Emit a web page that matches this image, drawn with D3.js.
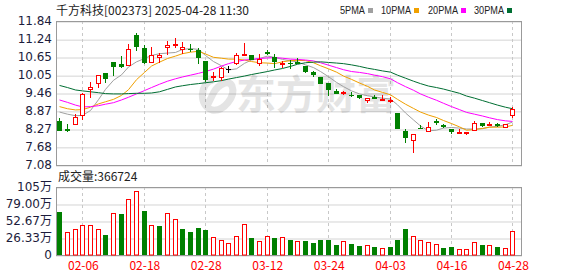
<!DOCTYPE html>
<html lang="zh">
<head>
<meta charset="UTF-8">
<title>千方科技 K线</title>
<script src="https://d3js.org/d3.v7.min.js"></script>
<style>
    body { margin: 0; background: #fff; }
    svg { display: block; }
    .ylab text { font-family: Tahoma, "DejaVu Sans", sans-serif; font-size: 12px; fill: #1c1c3c; }
    .xlab text { font-family: "Noto Sans CJK SC", monospace; font-size: 12px; fill: #ff0000; }
    .grid line { stroke: #d4d4d4; }
    .grid path, .ylab path, .xlab path { display: none; }
    .vgrid line { stroke: #c8c8c8; stroke-dasharray: 3,3; }
</style>
</head>
<body>
<svg width="578" height="276"></svg>
<script>
const dates = ["01-24","01-27","02-05","02-06","02-07","02-10","02-11","02-12","02-13","02-14",
    "02-17","02-18","02-19","02-20","02-21","02-24","02-25","02-26","02-27","02-28",
    "03-03","03-04","03-05","03-06","03-07","03-10","03-11","03-12","03-13","03-14",
    "03-17","03-18","03-19","03-20","03-21","03-24","03-25","03-26","03-27","03-28",
    "03-31","04-01","04-02","04-03","04-07","04-08","04-09","04-10","04-11","04-14",
    "04-15","04-16","04-17","04-18","04-21","04-22","04-23","04-24","04-25","04-28"];

const opens = [8.53,8.28,8.45,8.73,9.58,9.78,10.12,10.49,10.43,10.38,
    11.39,10.95,10.48,10.66,10.99,11.05,10.91,10.91,10.89,10.53,
    9.99,9.97,10.25,10.44,10.73,10.73,10.45,10.81,10.66,10.42,
    10.44,10.48,10.34,10.16,10.00,9.78,9.54,9.47,9.40,9.38,
    9.26,9.32,9.24,9.21,8.80,8.20,7.90,8.29,8.21,8.53,
    8.40,8.28,8.17,8.16,8.23,8.46,8.42,8.43,8.34,8.71];
const highs = [8.62,8.43,8.77,9.45,9.82,10.05,10.12,10.49,10.68,11.08,
    11.43,11.06,10.97,10.79,11.17,11.27,11.16,11.08,10.95,10.53,
    10.17,10.33,10.35,10.78,11.12,10.73,10.74,10.89,10.74,10.51,
    10.56,10.63,10.34,10.19,10.00,9.78,9.59,9.53,9.48,9.38,
    9.31,9.38,9.38,9.33,8.80,8.27,8.10,8.41,8.50,8.59,
    8.45,8.28,8.27,8.18,8.55,8.46,8.49,8.47,8.44,8.99];
const lows = [8.21,8.17,8.41,8.58,9.31,9.64,9.80,10.03,10.28,10.38,
    10.86,10.43,10.48,10.44,10.73,10.95,10.76,10.81,10.41,9.83,
    9.87,9.86,10.13,10.40,10.71,10.58,10.36,10.73,10.30,10.28,
    10.24,10.41,10.11,9.99,9.75,9.36,9.42,9.38,9.33,9.27,
    9.12,9.25,9.21,9.14,8.28,7.80,7.49,8.28,8.21,8.40,
    8.30,8.10,8.15,8.07,8.20,8.33,8.37,8.35,8.33,8.62];
const closes = [8.21,8.23,8.68,9.43,9.65,10.05,9.93,10.33,10.34,10.90,
    10.99,10.46,10.71,10.72,11.06,11.07,10.98,10.88,10.61,9.91,
    10.02,10.28,10.25,10.72,10.76,10.58,10.59,10.76,10.48,10.44,
    10.40,10.43,10.13,10.05,9.78,9.55,9.45,9.49,9.37,9.27,
    9.31,9.25,9.27,9.23,8.28,7.97,8.10,8.28,8.35,8.46,
    8.35,8.19,8.18,8.18,8.46,8.37,8.44,8.37,8.43,8.92];

const ma5 = [8.83,8.76,8.71,8.72,8.88,9.24,9.58,9.88,10.06,10.32,
    10.49,10.60,10.70,10.76,10.78,10.80,10.90,10.93,10.90,10.70,
    10.50,10.36,10.22,10.26,10.44,10.55,10.60,10.68,10.64,10.57,
    10.52,10.49,10.39,10.30,10.17,10.00,9.81,9.67,9.53,9.43,
    9.37,9.33,9.29,9.26,9.07,8.80,8.57,8.37,8.21,8.23,
    8.30,8.32,8.30,8.27,8.27,8.28,8.33,8.36,8.41,8.50];
const ma10 = [9.01,8.94,8.90,8.91,8.99,9.10,9.17,9.25,9.38,9.57,
    9.90,10.14,10.35,10.48,10.60,10.68,10.76,10.81,10.84,10.75,
    10.64,10.61,10.58,10.58,10.55,10.50,10.46,10.45,10.43,10.49,
    10.53,10.54,10.53,10.46,10.36,10.26,10.15,10.02,9.91,9.79,
    9.68,9.56,9.48,9.40,9.25,9.09,8.95,8.83,8.73,8.65,
    8.55,8.45,8.34,8.23,8.25,8.29,8.33,8.33,8.34,8.39];
const ma20 = [9.23,9.15,9.06,9.00,9.01,9.04,9.09,9.14,9.23,9.32,
    9.43,9.54,9.64,9.75,9.85,9.93,9.99,10.05,10.11,10.17,
    10.25,10.35,10.43,10.50,10.55,10.57,10.60,10.62,10.63,10.61,
    10.58,10.57,10.55,10.52,10.46,10.38,10.30,10.23,10.17,10.14,
    10.10,10.05,10.00,9.93,9.80,9.67,9.55,9.43,9.32,9.22,
    9.12,9.01,8.91,8.82,8.76,8.70,8.64,8.58,8.54,8.52];
const ma30 = [9.71,9.64,9.56,9.53,9.50,9.47,9.44,9.43,9.43,9.44,
    9.45,9.45,9.46,9.50,9.58,9.66,9.70,9.74,9.77,9.80,
    9.83,9.87,9.92,9.97,10.02,10.07,10.12,10.17,10.22,10.27,
    10.34,10.41,10.46,10.48,10.49,10.47,10.45,10.43,10.39,10.34,
    10.28,10.24,10.19,10.15,10.05,9.95,9.85,9.77,9.69,9.64,
    9.59,9.52,9.45,9.36,9.29,9.21,9.14,9.06,8.99,8.94];

// volume in 万手, and whether the bar is drawn as an up (red) or down (green) day
const volumes = [66.8,35.5,41,45.7,45.7,41,30.8,64.7,63.7,87.3,
    98.6,67.8,45.7,44.7,65.8,56.5,40,36,42,39,
    27.2,22.6,18,29.8,47.3,26.2,21,28.8,26.2,27.2,
    23.3,21.6,21.6,18.5,23.1,23.1,15.4,21.6,17,13.9,
    14.9,12.3,10.3,12.3,23.1,40,28.8,23.1,20,16.4,
    10.8,12.3,8.7,8.7,19.5,15.4,15.4,12.3,10.8,36.67];
const volUp = [0,1,1,1,1,1,0,1,0,1, 1,0,1,0,1,1,0,0,0,0,
    1,1,1,1,1,0,1,1,0,1, 0,1,0,0,0,0,0,1,0,0,
    1,0,1,0,0,0,1,1,1,1, 0,0,1,1,1,0,1,0,1,1];

const priceTicks = [7.08,7.68,8.27,8.87,9.46,10.05,10.65,11.24,11.84];
const volTicks = [0,26.33,52.67,79.00,105.33];
const volTickLabels = ["0","26.33万","52.67万","79.00万","105万"];
const dateTicks = ["02-06","02-18","02-28","03-12","03-24","04-03","04-16","04-28"];
const maNames = ["5PMA","10PMA","20PMA","30PMA"];
const maColors = ["#a0a0a0","#f0a000","#ff00ff","#006e32"];
const lastVolume = "366724";

const svg = d3.select("svg");
const left = 56, right = 522;
const pTop = 21, pBot = 165, vTop = 187, vBot = 255;

const x = d3.scaleBand().domain(dates).range([left, left + 7.68 * dates.length]).padding(0);
const cx = d => Math.floor(x(d) + x.bandwidth() / 2) + 0.5;
const yP = d3.scaleLinear().domain([7.08, 11.84]).range([pBot, pTop]);
const yV = d3.scaleLinear().domain([0, 105.33]).range([vBot, vTop]);

// horizontal grids
svg.append("g").attr("class", "grid")
    .attr("transform", `translate(${left},0)`)
    .call(d3.axisLeft(yP).tickValues(priceTicks).tickSize(-(right - left)).tickFormat(""));
svg.append("g").attr("class", "grid")
    .attr("transform", `translate(${left},0)`)
    .call(d3.axisLeft(yV).tickValues(volTicks).tickSize(-(right - left)).tickFormat(""));
svg.selectAll(".grid line").attr("transform", "translate(0,0.5)");

// vertical dashed grid
[[pTop, pBot], [vTop, vBot]].forEach(([t, b]) => {
    svg.append("g").attr("class", "vgrid")
        .selectAll("line").data(dateTicks).join("line")
        .attr("x1", d => cx(d)).attr("x2", d => cx(d))
        .attr("y1", t).attr("y2", b);
});

// watermark
const wm = svg.append("g").attr("opacity", 0.1);
wm.append("path")
    .attr("d", "M213,80 C200,82 198,106 212,110 C224,112 236,96 232,86 C229,79 219,84 214,92 L206,108")
    .attr("fill", "none").attr("stroke", "#000").attr("stroke-width", 7);
wm.append("text").attr("x", 236).attr("y", 109)
    .attr("font-family", "'Noto Sans CJK SC'").attr("font-size", 40).attr("font-weight", "bold")
    .attr("fill", "#000").text("东方财富");

// panel frames
svg.append("rect").attr("x", left + 0.5).attr("y", pTop + 0.5)
    .attr("width", right - left - 1).attr("height", pBot - pTop)
    .attr("fill", "none").attr("stroke", "#9a9a9a");
svg.append("rect").attr("x", left + 0.5).attr("y", vTop + 0.5)
    .attr("width", right - left - 1).attr("height", vBot - vTop)
    .attr("fill", "none").attr("stroke", "#9a9a9a");

// y labels
svg.append("g").attr("class", "ylab")
    .attr("transform", `translate(${left - 2},0)`)
    .call(d3.axisLeft(yP).tickValues(priceTicks).tickSize(0).tickPadding(2).tickFormat(d3.format(".2f")));
svg.append("g").attr("class", "ylab")
    .attr("transform", `translate(${left - 2},0)`)
    .call(d3.axisLeft(yV).tickValues(volTicks).tickSize(0).tickPadding(2)
        .tickFormat((d, i) => volTickLabels[i]));
svg.selectAll(".ylab text").style("font-family", "Tahoma, 'DejaVu Sans', 'Noto Sans CJK SC', sans-serif");

// x labels
svg.append("g").attr("class", "xlab")
    .attr("transform", `translate(0,${vBot})`)
    .call(d3.axisBottom(x).tickValues(dateTicks).tickSize(0).tickPadding(6))
    .selectAll("text").attr("dx", 0.5);

// MA lines
const mas = [ma5, ma10, ma20, ma30];
mas.forEach((m, k) => {
    const line = d3.line().x((d, i) => cx(dates[i])).y(d => yP(d));
    svg.append("path").datum(m).attr("d", line)
        .attr("fill", "none").attr("stroke", maColors[k]).attr("stroke-width", 1);
});

// candles
const candles = dates.map((d, i) => ({ d, o: opens[i], h: highs[i], l: lows[i], c: closes[i] }));
const col = c => c.c > c.o ? "#ff0000" : c.c < c.o ? "#008000" : "#000000";
const cg = svg.append("g");
cg.selectAll("line").data(candles).join("line")
    .attr("x1", c => cx(c.d)).attr("x2", c => cx(c.d))
    .attr("y1", c => Math.round(yP(c.h))).attr("y2", c => Math.round(yP(c.l)))
    .attr("stroke", col);
cg.selectAll("rect").data(candles).join("rect")
    .attr("x", c => c.c > c.o ? cx(c.d) - 2 : cx(c.d) - 2.5)
    .attr("width", c => c.c > c.o ? 4 : 5)
    .attr("y", c => Math.round(yP(Math.max(c.o, c.c))) + (c.c > c.o ? 0.5 : 0))
    .attr("height", c => Math.max(1, Math.round(yP(Math.min(c.o, c.c)) - yP(Math.max(c.o, c.c)))))
    .attr("fill", c => c.c > c.o ? "#fff" : col(c))
    .attr("stroke", c => c.c > c.o ? "#ff0000" : "none");

// volume bars
const vols = dates.map((d, i) => ({ d, v: volumes[i], up: volUp[i] }));
svg.append("g").selectAll("rect").data(vols).join("rect")
    .attr("x", v => v.up ? cx(v.d) - 2 : cx(v.d) - 2.5)
    .attr("width", v => v.up ? 4 : 5)
    .attr("y", v => Math.round(yV(v.v)) + (v.up ? 0.5 : 0))
    .attr("height", v => Math.round(vBot - yV(v.v)) - (v.up ? 0.5 : 0))
    .attr("fill", v => v.up ? "#fff" : "#008000")
    .attr("stroke", v => v.up ? "#ff0000" : "none");

// title and legend
svg.append("text").attr("x", 56).attr("y", 15)
    .attr("font-family", "'Noto Sans CJK SC'").attr("font-size", 12).attr("fill", "#222")
    .text("千方科技[002373] 2025-04-28 11:30");
const legX = [340, 381, 428, 474];
const legW = [25, 30, 30, 30];
maNames.forEach((n, k) => {
    svg.append("text").attr("x", legX[k]).attr("y", 14)
        .attr("font-family", "'Liberation Sans', Arial, sans-serif").attr("font-size", 11)
        .attr("textLength", legW[k]).attr("lengthAdjust", "spacingAndGlyphs")
        .attr("fill", "#222").text(n);
    svg.append("rect").attr("x", legX[k] + legW[k] + 3).attr("y", 8)
        .attr("width", 5).attr("height", 5).attr("fill", maColors[k]);
});
svg.append("text").attr("x", 58).attr("y", 181)
    .attr("font-family", "'Noto Sans CJK SC'").attr("font-size", 12).attr("fill", "#222")
    .text("成交量:" + lastVolume);
</script>
</body>
</html>
